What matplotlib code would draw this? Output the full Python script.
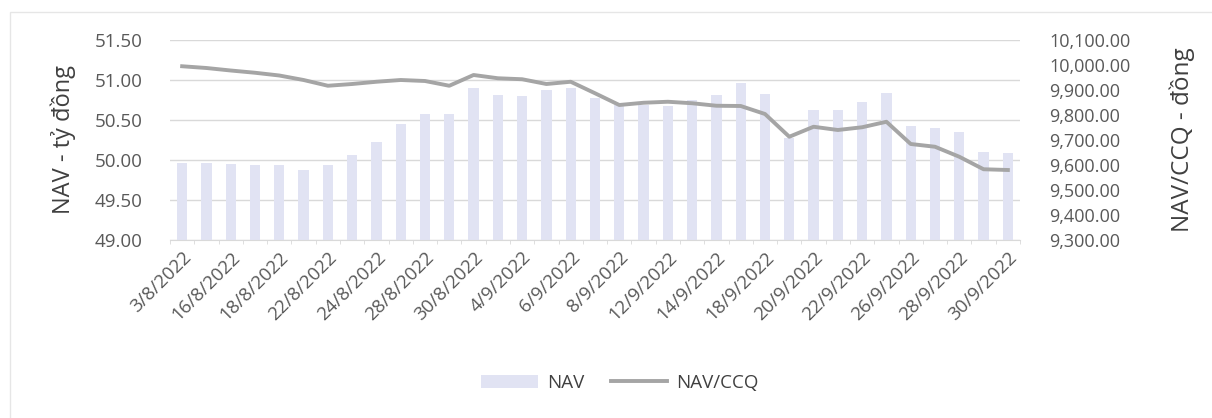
import matplotlib.pyplot as plt
from matplotlib.patches import Rectangle
from matplotlib.ticker import FuncFormatter
import numpy as np

plt.rcParams['font.family'] = ['Open Sans', 'DejaVu Sans']

# trading days, Aug - Sep 2022
dates = ['3/8/2022', '15/8/2022', '16/8/2022', '17/8/2022', '18/8/2022',
         '21/8/2022', '22/8/2022', '23/8/2022', '24/8/2022', '25/8/2022',
         '28/8/2022', '29/8/2022', '30/8/2022', '31/8/2022', '4/9/2022',
         '5/9/2022', '6/9/2022', '7/9/2022', '8/9/2022', '11/9/2022',
         '12/9/2022', '13/9/2022', '14/9/2022', '15/9/2022', '18/9/2022',
         '19/9/2022', '20/9/2022', '21/9/2022', '22/9/2022', '25/9/2022',
         '26/9/2022', '27/9/2022', '28/9/2022', '29/9/2022', '30/9/2022']

# NAV (ty dong)
nav = [49.96, 49.96, 49.95, 49.94, 49.94, 49.87, 49.94, 50.06, 50.23, 50.45,
       50.57, 50.57, 50.90, 50.81, 50.80, 50.87, 50.90, 50.77, 50.69, 50.69,
       50.67, 50.75, 50.81, 50.96, 50.83, 50.28, 50.63, 50.62, 50.73, 50.84,
       50.42, 50.40, 50.35, 50.10, 50.09]

# NAV/CCQ (dong)
nav_ccq = [9995, 9988, 9978, 9969, 9958, 9940, 9917, 9924, 9933, 9940,
           9936, 9917, 9960, 9947, 9943, 9924, 9933, 9887, 9840, 9849,
           9853, 9847, 9837, 9836, 9804, 9713, 9753, 9740, 9751, 9773,
           9684, 9673, 9633, 9583, 9580]

label_color = '#595959'
x = np.arange(len(dates))

fig = plt.figure(figsize=(12.12, 4.18), dpi=100)
ax = fig.add_axes([170 / 1212, 178 / 418, 850 / 1212, 200 / 418])

bars = ax.bar(x, nav, width=0.42, color='#e1e3f3', zorder=2, label='NAV')
ax.set_ylim(49, 51.5)
ax.set_yticks(np.arange(49, 51.51, 0.5))
ax.yaxis.set_major_formatter(FuncFormatter(lambda v, p: f'{v:.2f}'))
ax.grid(axis='y', color='#d9d9d9', linewidth=1, zorder=0)
ax.set_xlim(-0.5, len(dates) - 0.5)
ax.set_xticks(x[::2])
ax.set_xticklabels(dates[::2], rotation=45, ha='right', rotation_mode='anchor',
                   fontsize=13.5, color=label_color)
ax.set_xticks(np.arange(-0.5, len(dates), 1), minor=True)
ax.tick_params(axis='x', which='major', length=0, pad=6)
ax.tick_params(axis='x', which='minor', length=3, color='#d9d9d9')
ax.tick_params(axis='y', length=0, pad=20, labelsize=13.5, labelcolor=label_color)
for s in ['top', 'left', 'right']:
    ax.spines[s].set_visible(False)
ax.spines['bottom'].set_color('#d9d9d9')
ax.set_ylabel('NAV - tỷ đồng', fontsize=17, color='#404040', labelpad=13)

ax2 = ax.twinx()
line, = ax2.plot(x, nav_ccq, color='#a5a5a5', linewidth=2.8, zorder=3,
                 solid_joinstyle='round', label='NAV/CCQ')
ax2.set_ylim(9300, 10100)
ax2.set_yticks(np.arange(9300, 10101, 100))
ax2.yaxis.set_major_formatter(FuncFormatter(lambda v, p: f'{v:,.2f}'))
ax2.tick_params(axis='y', length=0, pad=21, labelsize=13, labelcolor=label_color)
for s in ax2.spines.values():
    s.set_visible(False)
ax2.set_ylabel('NAV/CCQ - đồng', fontsize=17.5, color='#404040', labelpad=28)

fig.legend([bars, line], ['NAV', 'NAV/CCQ'], loc='center',
           bbox_to_anchor=(620 / 1212, 1 - 383 / 418), ncol=2, frameon=False,
           fontsize=13.5, handlelength=3.0, handletextpad=0.5,
           columnspacing=1.4, labelcolor='#404040')

# faint outer frame of the chart
fig.patches.append(Rectangle((10 / 1212, -0.05), 1.1, 1 - 12 / 418 + 0.05,
                             transform=fig.transFigure, fill=False,
                             edgecolor='#e6e6e6', linewidth=1))

fig.savefig('out.png', dpi=100, facecolor='white')
